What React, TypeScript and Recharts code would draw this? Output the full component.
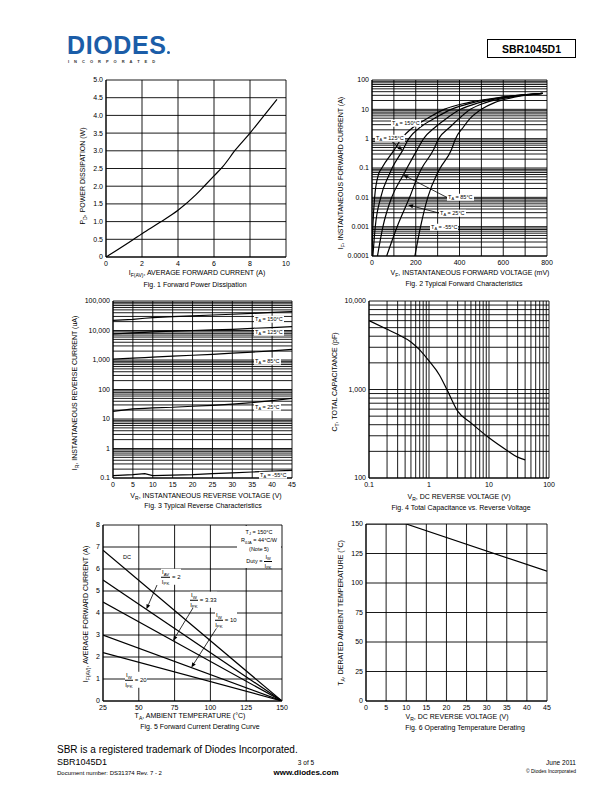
import React from 'react'
import { LineChart, Line, XAxis, YAxis, CartesianGrid, ReferenceLine } from 'recharts'

const FONT = '"Liberation Sans", Arial, Helvetica, sans-serif'

// Fig. 1 forward power dissipation
const fig1Current = [0, 1.5, 2, 3, 4, 5, 5.4, 6, 6.5, 7.2, 8, 8.8, 9.5]
const fig1Power = [0, 0.49, 0.66, 0.98, 1.32, 1.76, 1.97, 2.29, 2.56, 3.03, 3.5, 4.01, 4.45]
const fig1XTicks = [0, 2, 4, 6, 8, 10]
const fig1YTicks = [0, 0.5, 1, 1.5, 2, 2.5, 3, 3.5, 4, 4.5, 5]
const fig1YLabels = ['0', '0.5', '1.0', '1.5', '2.0', '2.5', '3.0', '3.5', '4.0', '4.5', '5.0']

// Fig. 2 forward characteristics (mV, A)
const fig2Current = [0.0001, 0.001, 0.01, 0.058, 0.1, 0.4, 1, 2.5, 5, 10, 17, 26, 35]
const fig2V150 = [0, 4, 12, 29, 45, 100, 135, 190, 255, 330, 440, 590, 780]
const fig2V125 = [4, 15, 40, 78, 92, 140, 168, 222, 287, 362, 462, 600, 780]
const fig2V85 = [25, 50, 90, 143, 160, 205, 236, 290, 342, 405, 490, 615, 780]
const fig2V25 = [67, 115, 172, 212, 228, 280, 305, 357, 400, 450, 520, 630, 780]
const fig2Vm55 = [196, 222, 255, 295, 312, 362, 382, 418, 450, 500, 560, 650, 780]
const fig2XTicks = [0, 100, 200, 300, 400, 500, 600, 700, 800]
const fig2XLabels = ['0', '', '200', '', '400', '', '600', '', '800']
const fig2Decades = [0.0001, 0.001, 0.01, 0.1, 1, 10, 100]
const fig2DecadeLabels = ['0.0001', '0.001', '0.01', '0.1', '1', '10', '100']
const fig2Arrows = [
  { from: [91, 0.79], to: [140, 0.4] },
  { from: [344, 0.0098], to: [143, 0.058] },
  { from: [308, 0.0029], to: [165, 0.0055] },
]

// Fig. 3 reverse characteristics (V, uA)
const fig3Voltage = [0, 5, 8, 10, 15, 20, 25, 30, 35, 40, 45]
const fig3I150 = [22000, 24000, 26000, 27500, 29500, 31500, 33500, 35500, 38000, 41000, 44000]
const fig3I125 = [7600, 8300, 8700, 9000, 9500, 10000, 10500, 11000, 11800, 12600, 13500]
const fig3I85 = [1070, 1150, 1200, 1250, 1350, 1450, 1550, 1700, 1850, 2050, 2280]
const fig3I25 = [18, 22, 23, 24, 25, 27, 29, 32, 36, 42, 50]
const fig3Im55 = [0.12, 0.13, 0.14, 0.12, 0.125, 0.13, 0.14, 0.15, 0.16, 0.17, 0.18]
const fig3XTicks = [0, 5, 10, 15, 20, 25, 30, 35, 40, 45]
const fig3Decades = [0.1, 1, 10, 100, 1000, 10000, 100000]
const fig3DecadeLabels = ['0.1', '1', '10', '100', '1,000', '10,000', '100,000']

// Fig. 4 capacitance
const fig4Voltage = [0.1, 0.2, 0.3, 0.5, 0.7, 1, 1.5, 2, 3, 5, 10, 20, 30, 40]
const fig4Cap = [6000, 4800, 4200, 3450, 2800, 2100, 1450, 990, 570, 420, 285, 205, 172, 160]
const fig4XDecades = [0.1, 1, 10, 100]
const fig4XLabels = ['0.1', '1', '10', '100']
const fig4YDecades = [100, 1000, 10000]
const fig4YLabels = ['100', '1,000', '10,000']

// Fig. 5 derating
const fig5Temp = [25, 150]
const fig5DC = [6.85, 0]
const fig5Duty2 = [5.5, 0]
const fig5Duty333 = [4.5, 0]
const fig5Duty10 = [3.0, 0]
const fig5Duty20 = [2.2, 0]
const fig5XTicks = [25, 50, 75, 100, 125, 150]
const fig5YTicks = [0, 1, 2, 3, 4, 5, 6, 7, 8]
const fig5Arrows = [
  { from: [62.7, 5.27], to: [55.3, 4.17] },
  { from: [88.3, 4.28], to: [73.9, 2.74] },
  { from: [104.2, 3.3], to: [86.7, 1.52] },
]

// Fig. 6 operating temperature derating
const fig6Voltage = [0, 10, 45]
const fig6Temp = [150, 150, 110]
const fig6XTicks = [0, 5, 10, 15, 20, 25, 30, 35, 40, 45]
const fig6YTicks = [0, 25, 50, 75, 100, 125, 150]

const zip = (xs: number[], ys: number[]) => xs.map((x, i) => ({ x, y: ys[i] }))
const zipYX = (ys: number[], xs: number[]) => xs.map((x, i) => ({ x, y: ys[i] }))

const logTicks = (lo: number, hi: number) => {
  const out: number[] = []
  for (let d = lo; d < hi * 0.999; d *= 10) {
    for (let m = 1; m < 10; m++) out.push(+(d * m).toPrecision(3))
  }
  out.push(hi)
  return out
}
const labelOf = (vals: number[], labels: string[]) => (v: number) => {
  const i = vals.findIndex((t) => Math.abs(t - v) / Math.abs(t || 1) < 1e-6)
  return i >= 0 ? labels[i] : ''
}

const tickStyle = { fontSize: 7, fill: '#000', fontFamily: FONT }
const xAx: any = { type: 'number', dataKey: 'x', height: 16, tickSize: 0, tickMargin: 4, axisLine: { stroke: '#000' }, tick: tickStyle, interval: 0, allowDataOverflow: true }
const yAx: any = { type: 'number', width: 44, tickSize: 0, tickMargin: 3, axisLine: { stroke: '#000' }, tick: tickStyle, interval: 0, allowDataOverflow: true }
const grid = <CartesianGrid stroke="#000" strokeWidth={0.9} />
const curve = { dot: false, isAnimationActive: false, stroke: '#000', strokeWidth: 1.2, dataKey: 'y' }

const arrowShape = (p: any) => {
  const { x1, y1, x2, y2 } = p
  const a = Math.atan2(y2 - y1, x2 - x1)
  const bx = x2 - 5 * Math.cos(a)
  const by = y2 - 5 * Math.sin(a)
  const pts = `${x2},${y2} ${bx + 2 * Math.sin(a)},${by - 2 * Math.cos(a)} ${bx - 2 * Math.sin(a)},${by + 2 * Math.cos(a)}`
  return (
    <g>
      <line x1={x1} y1={y1} x2={bx} y2={by} stroke="#000" strokeWidth={0.8} />
      <polygon points={pts} fill="#000" />
    </g>
  )
}

function Panel({ x, y, w, h, children }: any) {
  const padL = 44, padT = 6, padR = 12
  return (
    <div style={{ position: 'absolute', left: x - padL, top: y - padT }}>
      <LineChart width={w + padL + padR} height={h + padT + 16} margin={{ top: padT, right: padR, bottom: 0, left: 0 }}>
        {children}
      </LineChart>
    </div>
  )
}

const Sub = ({ children }: any) => (
  <span style={{ fontSize: '0.72em', position: 'relative', top: '0.35em' }}>{children}</span>
)

function Txt({ x, y, size = 7, anchor = 'middle', bold, bg, rot, color = '#000', children, style }: any) {
  const tx = anchor === 'middle' ? '-50%' : anchor === 'end' ? '-100%' : '0'
  return (
    <div
      style={{
        position: 'absolute', left: x, top: y,
        transform: `translate(${tx}, -50%)${rot ? ' rotate(-90deg)' : ''}`,
        fontSize: size, fontFamily: FONT, fontWeight: bold ? 700 : 400, whiteSpace: 'nowrap',
        lineHeight: 1.15, background: bg ? '#fff' : undefined, color, padding: bg ? '0 1px' : 0, ...style,
      }}
    >
      {children}
    </div>
  )
}

function Frac({ top, bottom }: any) {
  return (
    <span style={{ display: 'inline-flex', flexDirection: 'column', alignItems: 'center', verticalAlign: 'middle', lineHeight: 1.1 }}>
      <span style={{ borderBottom: '0.7px solid #000', padding: '0 1px 1px' }}>I<Sub>{top}</Sub></span>
      <span style={{ paddingTop: 1 }}>I<Sub>{bottom}</Sub></span>
    </span>
  )
}

function Duty({ x, y, top = 'W', value }: any) {
  return (
    <div style={{ position: 'absolute', left: x, top: y, transform: 'translateY(-50%)', fontSize: 6, fontFamily: FONT, background: '#fff', display: 'flex', alignItems: 'center', gap: 2, whiteSpace: 'nowrap' }}>
      <Frac top={top} bottom="PK" />
      <span>= {value}</span>
    </div>
  )
}

const TA = ({ t }: any) => <>T<Sub>A</Sub> = {t}°C</>

export default function App() {
  const f2y = logTicks(0.0001, 100)
  const f3y = logTicks(0.1, 100000)
  const f4x = logTicks(0.1, 100)
  const f4y = logTicks(100, 10000)
  return (
    <div style={{ position: 'absolute', left: 0, top: 0, width: 612, height: 792, background: '#fff', overflow: 'hidden', fontFamily: FONT }}>
      {/* header */}
      <div style={{ position: 'absolute', left: 67, top: 31, fontSize: 25, fontWeight: 900, color: '#1b5da8', letterSpacing: 0.6 }}>DIODES</div>
      <div style={{ position: 'absolute', left: 167, top: 51, width: 3, height: 3, borderRadius: 2, background: '#1b5da8' }} />
      <div style={{ position: 'absolute', left: 68, top: 59.5, fontSize: 4, fontWeight: 700, letterSpacing: 5, color: '#333', lineHeight: 1 }}>INCORPORATED</div>
      <div style={{ position: 'absolute', left: 487, top: 39, width: 89, height: 19, boxSizing: 'border-box', border: '1px solid #000', fontSize: 10.5, fontWeight: 700, display: 'flex', alignItems: 'center', justifyContent: 'center' }}>SBR1045D1</div>

      {/* Fig 1 */}
      <Panel x={106} y={80} w={180} h={177}>
        {grid}
        <XAxis {...xAx} domain={[0, 10]} ticks={fig1XTicks} />
        <YAxis {...yAx} domain={[0, 5]} ticks={fig1YTicks} tickFormatter={labelOf(fig1YTicks, fig1YLabels)} />
        <Line {...curve} type="monotone" data={zip(fig1Current, fig1Power)} />
      </Panel>
      <Txt x={83} y={176} rot>P<Sub>D</Sub>, POWER DISSIPATION (W)</Txt>
      <Txt x={197} y={273}>I<Sub>F(AV)</Sub>, AVERAGE FORWARD CURRENT (A)</Txt>
      <Txt x={195} y={285}>Fig. 1 Forward Power Dissipation</Txt>

      {/* Fig 2 */}
      <Panel x={372} y={80} w={175} h={176}>
        {grid}
        <XAxis {...xAx} domain={[0, 800]} ticks={fig2XTicks} tickFormatter={labelOf(fig2XTicks, fig2XLabels)} />
        <YAxis {...yAx} scale="log" domain={[0.0001, 100]} ticks={f2y} tickFormatter={labelOf(fig2Decades, fig2DecadeLabels)} />
        <Line {...curve} type="monotone" data={zipYX(fig2Current, fig2V150)} />
        <Line {...curve} type="monotone" data={zipYX(fig2Current, fig2V125)} />
        <Line {...curve} type="monotone" data={zipYX(fig2Current, fig2V85)} />
        <Line {...curve} type="monotone" data={zipYX(fig2Current, fig2V25)} />
        <Line {...curve} type="monotone" data={zipYX(fig2Current, fig2Vm55)} />
        {fig2Arrows.map((a, i) => (
          <ReferenceLine key={i} segment={[{ x: a.from[0], y: a.from[1] }, { x: a.to[0], y: a.to[1] }]} shape={arrowShape} />
        ))}
      </Panel>
      <Txt x={391} y={123} anchor="start" size={5.5} bg><TA t="150" /></Txt>
      <Txt x={375} y={138} anchor="start" size={5.5} bg><TA t="125" /></Txt>
      <Txt x={447} y={197} anchor="start" size={5.5} bg><TA t="85" /></Txt>
      <Txt x={439} y={213} anchor="start" size={5.5} bg><TA t="25" /></Txt>
      <Txt x={430} y={227} anchor="start" size={5.5} bg><TA t="-55" /></Txt>
      <Txt x={341} y={173} rot>I<Sub>F</Sub>, INSTANTANEOUS FORWARD CURRENT (A)</Txt>
      <Txt x={470} y={273}>V<Sub>F</Sub>, INSTANTANEOUS FORWARD VOLTAGE (mV)</Txt>
      <Txt x={464} y={284}>Fig. 2 Typical Forward Characteristics</Txt>

      {/* Fig 3 */}
      <Panel x={113} y={301} w={179} h={177}>
        {grid}
        <XAxis {...xAx} domain={[0, 45]} ticks={fig3XTicks} />
        <YAxis {...yAx} scale="log" domain={[0.1, 100000]} ticks={f3y} tickFormatter={labelOf(fig3Decades, fig3DecadeLabels)} />
        <Line {...curve} type="linear" data={zip(fig3Voltage, fig3I150)} />
        <Line {...curve} type="linear" data={zip(fig3Voltage, fig3I125)} />
        <Line {...curve} type="linear" data={zip(fig3Voltage, fig3I85)} />
        <Line {...curve} type="linear" data={zip(fig3Voltage, fig3I25)} />
        <Line {...curve} type="linear" data={zip(fig3Voltage, fig3Im55)} />
      </Panel>
      <Txt x={254} y={319} anchor="start" size={5.5} bg><TA t="150" /></Txt>
      <Txt x={254} y={332} anchor="start" size={5.5} bg><TA t="125" /></Txt>
      <Txt x={254} y={361} anchor="start" size={5.5} bg><TA t="85" /></Txt>
      <Txt x={254} y={407} anchor="start" size={5.5} bg><TA t="25" /></Txt>
      <Txt x={259} y={475} anchor="start" size={5.5} bg><TA t="-55" /></Txt>
      <Txt x={75} y={393} rot>I<Sub>R</Sub>, INSTANTANEOUS REVERSE CURRENT (uA)</Txt>
      <Txt x={206} y={496}>V<Sub>R</Sub>, INSTANTANEOUS REVERSE VOLTAGE (V)</Txt>
      <Txt x={203} y={506}>Fig. 3 Typical Reverse Characteristics</Txt>

      {/* Fig 4 */}
      <Panel x={369} y={301} w={180} h={177}>
        {grid}
        <XAxis {...xAx} scale="log" domain={[0.1, 100]} ticks={f4x} tickFormatter={labelOf(fig4XDecades, fig4XLabels)} />
        <YAxis {...yAx} scale="log" domain={[100, 10000]} ticks={f4y} tickFormatter={labelOf(fig4YDecades, fig4YLabels)} />
        <Line {...curve} type="monotone" data={zip(fig4Voltage, fig4Cap)} />
      </Panel>
      <Txt x={335} y={382} rot>C<Sub>T</Sub>, TOTAL CAPACITANCE (pF)</Txt>
      <Txt x={459} y={497}>V<Sub>R</Sub>, DC REVERSE VOLTAGE (V)</Txt>
      <Txt x={461} y={508}>Fig. 4 Total Capacitance vs. Reverse Voltage</Txt>

      {/* Fig 5 */}
      <Panel x={103} y={525} w={179} h={176}>
        {grid}
        <XAxis {...xAx} domain={[25, 150]} ticks={fig5XTicks} />
        <YAxis {...yAx} domain={[0, 8]} ticks={fig5YTicks} />
        <Line {...curve} type="linear" data={zip(fig5Temp, fig5DC)} />
        <Line {...curve} type="linear" data={zip(fig5Temp, fig5Duty2)} />
        <Line {...curve} type="linear" data={zip(fig5Temp, fig5Duty333)} />
        <Line {...curve} type="linear" data={zip(fig5Temp, fig5Duty10)} />
        <Line {...curve} type="linear" data={zip(fig5Temp, fig5Duty20)} />
        {fig5Arrows.map((a, i) => (
          <ReferenceLine key={i} segment={[{ x: a.from[0], y: a.from[1] }, { x: a.to[0], y: a.to[1] }]} shape={arrowShape} />
        ))}
      </Panel>
      <div style={{ position: 'absolute', left: 237, top: 526, width: 44, height: 42, background: '#fff', fontSize: 5.5, lineHeight: 1.5, textAlign: 'center' }}>
        <div style={{ marginTop: 2 }}>T<Sub>J</Sub> = 150°C</div>
        <div>R<Sub>θJA</Sub> = 44°C/W</div>
        <div>(Note 5)</div>
        <div style={{ display: 'flex', alignItems: 'center', justifyContent: 'center', gap: 2, marginTop: 1 }}>
          <span>Duty =</span>
          <Frac top="W" bottom="PK" />
        </div>
      </div>
      <Txt x={127} y={557} size={5.5}>DC</Txt>
      <Duty x={161} y={577} top="AV" value="2" />
      <Duty x={190} y={600} value="3.33" />
      <Duty x={215} y={620} value="10" />
      <Duty x={125} y={680} value="20" />
      <Txt x={86} y={614} rot>I<Sub>F(AV)</Sub>, AVERAGE FORWARD CURRENT (A)</Txt>
      <Txt x={190} y={716}>T<Sub>A</Sub>, AMBIENT TEMPERATURE (°C)</Txt>
      <Txt x={200} y={727}>Fig. 5 Forward Current Derating Curve</Txt>

      {/* Fig 6 */}
      <Panel x={366} y={524} w={181} h={177}>
        {grid}
        <XAxis {...xAx} domain={[0, 45]} ticks={fig6XTicks} />
        <YAxis {...yAx} domain={[0, 150]} ticks={fig6YTicks} />
        <Line {...curve} type="linear" data={zip(fig6Voltage, fig6Temp)} />
      </Panel>
      <Txt x={341} y={613} rot>T<Sub>A</Sub>, DERATED AMBIENT TEMPERATURE (°C)</Txt>
      <Txt x={457} y={717}>V<Sub>R</Sub>, DC REVERSE VOLTAGE (V)</Txt>
      <Txt x={465} y={728}>Fig. 6 Operating Temperature Derating</Txt>

      {/* footer */}
      <Txt x={57} y={750} anchor="start" size={10}>SBR is a registered trademark of Diodes Incorporated.</Txt>
      <Txt x={57} y={762} anchor="start" size={9}>SBR1045D1</Txt>
      <Txt x={57} y={773} anchor="start" size={6}>Document number: DS31374 Rev. 7 - 2</Txt>
      <Txt x={306} y={763} size={6.5}>3 of 5</Txt>
      <Txt x={306} y={773} size={8} bold>www.diodes.com</Txt>
      <Txt x={576} y={763} anchor="end" size={6.5}>June 2011</Txt>
      <Txt x={576} y={772} anchor="end" size={5}>© Diodes Incorporated</Txt>
    </div>
  )
}
